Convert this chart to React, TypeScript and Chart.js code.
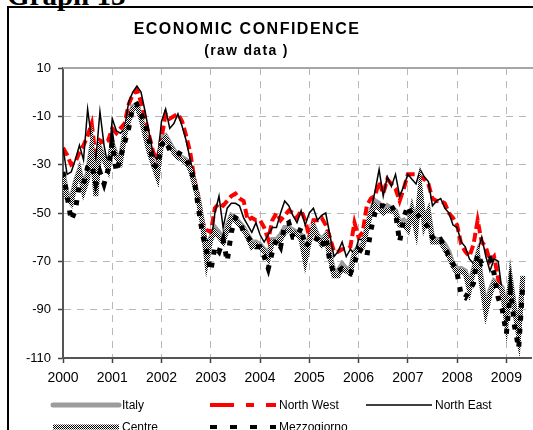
import React, { useEffect, useRef } from "react";
import { Chart, registerables } from "chart.js";

Chart.register(...registerables);

// Monthly observations Jan 2000 – May 2009
const years = [2000, 2001, 2002, 2003, 2004, 2005, 2006, 2007, 2008, 2009];
const yTicks = [10, -10, -30, -50, -70, -90, -110];

const italy = [
  -33, -42, -44, -37, -32, -39, -33, -22, -41, -23, -27, -31,
  -21, -26, -27, -17, -11, -6, -5, -10, -17, -24, -29, -33,
  -19, -18, -21, -24, -26, -27, -28, -31, -37, -44, -54, -67,
  -60, -56, -58, -61, -55, -51, -52, -54, -56, -59, -62, -62,
  -63, -65, -67, -61, -61, -59, -56, -56, -57, -58, -59, -67,
  -60, -55, -59, -61, -59, -67, -74, -74, -71, -73, -73, -66,
  -64, -63, -56, -49, -45, -46, -49, -47, -48, -49, -54, -53,
  -55, -48, -55, -41, -53, -49, -60, -61, -61, -63, -66, -71,
  -73, -73, -74, -80, -73, -67, -78, -89, -82, -78, -79, -81,
  -93, -77, -89, -100, -77,
];

const northWest = [
  -23, -26, -30, -29, -25, -22, -18, -13, -28, -20, -21, -20,
  -15, -17, -15, -13, -5, -1, 1, -4, -11, -18, -25, -28,
  -19, -9, -11, -10, -9, -12, -18, -25, -36, -44, -54, -57,
  -58, -48, -46, -47, -45, -43, -42, -44, -45, -53, -52, -53,
  -53, -56, -61, -53, -50, -53, -51, -49, -50, -52, -49, -53,
  -60, -53, -53, -52, -55, -60, -66, -66, -65, -65, -64, -54,
  -60, -58, -47, -44, -43, -37, -42, -36, -38, -40, -45, -40,
  -34, -34, -34, -35, -36, -38, -44, -45, -45, -46, -50, -52,
  -55, -63, -66, -68, -63, -53, -62, -64, -70, -68, -77, -84,
  -87, -80, -90, -99, -80,
];

const northEast = [
  -23, -34, -33, -28, -22, -28, -7, -20, -28, -8, -22, -31,
  -11, -16, -17, -15, -4, 0, 2.5, 0, -8, -17, -26, -28,
  -12, -7, -15, -13, -9, -14, -20, -28, -35, -48, -55, -61,
  -63, -50, -43, -56, -48, -46, -46, -47, -52, -55, -58, -54,
  -59, -62, -59, -56, -56, -50, -45, -47, -51, -54, -49, -55,
  -50, -48, -53, -51, -50, -59, -68, -66, -62, -68, -65, -67,
  -61, -61, -56, -49, -41, -32, -43, -35, -39, -34, -43, -39,
  -34, -36, -38, -32, -35, -37, -47, -45, -44, -48, -50, -55,
  -56, -62, -64, -69, -71, -66, -60, -68, -74, -69, -70, -83,
  -90, -78, -88, -101, -80,
];

const centre = [
  -35, -44, -46, -38, -33, -41, -36, -23, -43, -24, -28, -32,
  -22, -27, -29, -18, -12, -7, -6, -11, -18, -25, -30, -35,
  -21, -19, -22, -25, -27, -28, -29, -32, -38, -45, -55, -70,
  -61, -58, -60, -62, -57, -52, -53, -55, -57, -60, -64, -63,
  -64, -66, -69, -62, -62, -61, -58, -57, -58, -59, -61, -70,
  -62, -56, -60, -63, -60, -68, -76, -76, -73, -74, -75, -67,
  -65, -64, -57, -50, -47, -48, -50, -49, -49, -50, -55, -55,
  -57, -49, -57, -40, -55, -50, -62, -62, -62, -65, -68, -72,
  -75, -74, -75, -82, -74, -68, -80, -91, -84, -79, -80, -82,
  -95, -78, -90, -101, -76,
];

const mezzogiorno = [
  -33, -43, -53, -49, -38, -38, -31, -30, -38, -33, -38, -32,
  -21, -33, -27, -21, -15, -6, -5, -9, -13, -20, -30, -31,
  -22, -20, -24, -24, -25, -26, -28, -31, -37, -48, -59, -66,
  -74, -64, -66, -61, -70, -58, -52, -53, -58, -60, -62, -64,
  -64, -68, -73, -66, -61, -64, -55, -54, -60, -60, -56, -64,
  -62, -60, -61, -64, -60, -70, -75, -74, -73, -74, -75, -71,
  -65, -66, -68, -57, -50, -47, -47, -48, -47, -50, -62, -52,
  -47, -51, -50, -52, -54, -56, -60, -62, -61, -64, -68, -71,
  -75, -84, -85, -82, -79, -67, -71, -70, -69, -75, -85, -90,
  -100, -82, -97, -106, -80,
];

// month positions on the time axis (year + month fraction)
const monthX: number[] = [];
for (const yr of years) {
  for (let m = 0; m < 12; m++) monthX.push(yr + m / 12);
}

const FONT = "'Liberation Sans', Arial, sans-serif";

function makeChecker(): CanvasPattern | string {
  const pc = document.createElement("canvas");
  pc.width = 2;
  pc.height = 2;
  const g = pc.getContext("2d");
  if (!g) return "#888";
  g.fillStyle = "#ffffff";
  g.fillRect(0, 0, 2, 2);
  g.fillStyle = "#000000";
  g.fillRect(0, 0, 1, 1);
  g.fillRect(1, 1, 1, 1);
  return g.createPattern(pc, "repeat") || "#888";
}

export default function App() {
  const ref = useRef<HTMLCanvasElement | null>(null);

  useEffect(() => {
    const canvas = ref.current;
    if (!canvas) return;
    const checker = makeChecker();

    const pts = (arr: number[]) => arr.map((v, i) => ({ x: monthX[i], y: v }));

    const topLine = {
      id: "topLine",
      beforeDatasetsDraw(chart: any) {
        const { ctx, chartArea } = chart;
        ctx.save();
        ctx.strokeStyle = "#a6a6a6";
        ctx.lineWidth = 2;
        ctx.beginPath();
        ctx.moveTo(chartArea.left, chartArea.top);
        ctx.lineTo(chartArea.right + 4, chartArea.top);
        ctx.stroke();
        ctx.restore();
      },
    };

    const legendItems = [
      { label: "Italy", row: 0, col: 0, kind: "italy" },
      { label: "North West", row: 0, col: 1, kind: "nw" },
      { label: "North East", row: 0, col: 2, kind: "ne" },
      { label: "Centre", row: 1, col: 0, kind: "centre" },
      { label: "Mezzogiorno", row: 1, col: 1, kind: "mezz" },
    ];

    const customLegend = {
      id: "customLegend",
      afterDraw(chart: any) {
        const { ctx, chartArea } = chart;
        const colX = [53, 210, 366];
        const baseY = chartArea.bottom + 47;
        ctx.save();
        for (const it of legendItems) {
          const x0 = colX[it.col];
          const x1 = x0 + 66;
          const y = baseY + it.row * 22;
          ctx.save();
          ctx.beginPath();
          if (it.kind === "italy") {
            ctx.strokeStyle = "#9c9c9c";
            ctx.lineWidth = 5;
            ctx.lineCap = "round";
          } else if (it.kind === "nw") {
            ctx.strokeStyle = "#ff0000";
            ctx.lineWidth = 4;
            ctx.setLineDash([24, 12, 8, 12]);
          } else if (it.kind === "ne") {
            ctx.strokeStyle = "#000000";
            ctx.lineWidth = 1.5;
          } else if (it.kind === "centre") {
            ctx.strokeStyle = checker;
            ctx.lineWidth = 5;
          } else {
            ctx.strokeStyle = "#000000";
            ctx.lineWidth = 4;
            ctx.setLineDash([7, 13]);
          }
          ctx.moveTo(x0, y);
          ctx.lineTo(x1, y);
          ctx.stroke();
          ctx.restore();
          ctx.fillStyle = "#000";
          ctx.font = `12px ${FONT}`;
          ctx.textBaseline = "middle";
          ctx.textAlign = "left";
          ctx.fillText(it.label, x1 + 3, y + 1);
        }
        ctx.restore();
      },
    };

    const chart = new Chart(canvas, {
      type: "line",
      data: {
        datasets: [
          {
            label: "Italy",
            data: pts(italy),
            borderColor: "#9c9c9c",
            borderWidth: 5,
            order: 5,
          },
          {
            label: "North West",
            data: pts(northWest),
            borderColor: "#ff0000",
            borderWidth: 4,
            borderDash: [9, 4],
            order: 4,
          },
          {
            label: "North East",
            data: pts(northEast),
            borderColor: "#000000",
            borderWidth: 1.5,
            order: 3,
          },
          {
            label: "Centre",
            data: pts(centre),
            borderColor: checker as any,
            borderWidth: 5,
            order: 2,
          },
          {
            label: "Mezzogiorno",
            data: pts(mezzogiorno),
            borderColor: "#000000",
            borderWidth: 5,
            borderDash: [5, 8],
            order: 1,
          },
        ],
      },
      options: {
        animation: false,
        responsive: false,
        maintainAspectRatio: false,
        elements: {
          point: { radius: 0, hoverRadius: 0 },
          line: { tension: 0, fill: false, borderCapStyle: "butt" },
        },
        layout: { padding: { left: 8, top: 68, right: 2, bottom: 42 } },
        plugins: {
          legend: { display: false },
          title: { display: false },
          tooltip: { enabled: false },
        },
        scales: {
          x: {
            type: "linear",
            min: 2000,
            max: 2009.5,
            afterBuildTicks: (s: any) => {
              s.ticks = years.map((v) => ({ value: v }));
            },
            afterFit: (s: any) => {
              s.height = 30;
            },
            ticks: {
              callback: (v: any) => String(v),
              color: "#000",
              font: { family: FONT, size: 14 },
              padding: 7,
              maxRotation: 0,
              autoSkip: false,
            },
            grid: {
              color: "#b8b8b8",
              lineWidth: 1,
              tickLength: 5,
              tickColor: "#404040",
              tickWidth: 1.5,
            },
            border: { color: "#555555", width: 2, dash: [7, 6] },
          },
          y: {
            min: -110,
            max: 10,
            afterBuildTicks: (s: any) => {
              s.ticks = yTicks.map((v) => ({ value: v }));
            },
            afterFit: (s: any) => {
              s.width = 55;
            },
            ticks: {
              color: "#000",
              font: { family: FONT, size: 13 },
              padding: 7,
            },
            grid: {
              color: "#b8b8b8",
              lineWidth: 1,
              tickLength: 5,
              tickColor: "#404040",
              tickWidth: 1.5,
            },
            border: { color: "#555555", width: 2, dash: [7, 6] },
          },
        },
      },
      plugins: [topLine, customLegend],
    } as any);

    return () => chart.destroy();
  }, []);

  return (
    <div
      style={{
        position: "absolute",
        left: 0,
        top: 0,
        width: 533,
        height: 430,
        overflow: "hidden",
        background: "#fff",
      }}
    >
      <div
        style={{
          position: "absolute",
          left: 7,
          top: -19,
          font: "bold 29px 'Liberation Serif', 'Times New Roman', serif",
          lineHeight: "28px",
          whiteSpace: "nowrap",
        }}
      >
        Graph 13
      </div>
      <div
        style={{
          position: "absolute",
          left: 7,
          top: 6,
          width: 620,
          height: 520,
          border: "2px solid #000",
          boxSizing: "border-box",
        }}
      />
      <canvas
        ref={ref}
        width={533}
        height={430}
        style={{ position: "absolute", left: 0, top: 0, width: 533, height: 430 }}
      />
      <div
        style={{
          position: "absolute",
          left: 0,
          top: 21,
          width: 494,
          textAlign: "center",
          font: `bold 16px ${FONT}`,
          lineHeight: "16px",
          letterSpacing: "1.5px",
          whiteSpace: "nowrap",
        }}
      >
        ECONOMIC CONFIDENCE
      </div>
      <div
        style={{
          position: "absolute",
          left: 0,
          top: 43,
          width: 493,
          textAlign: "center",
          font: `bold 14px ${FONT}`,
          lineHeight: "14px",
          letterSpacing: "1.3px",
          whiteSpace: "nowrap",
        }}
      >
        (raw data )
      </div>
    </div>
  );
}
